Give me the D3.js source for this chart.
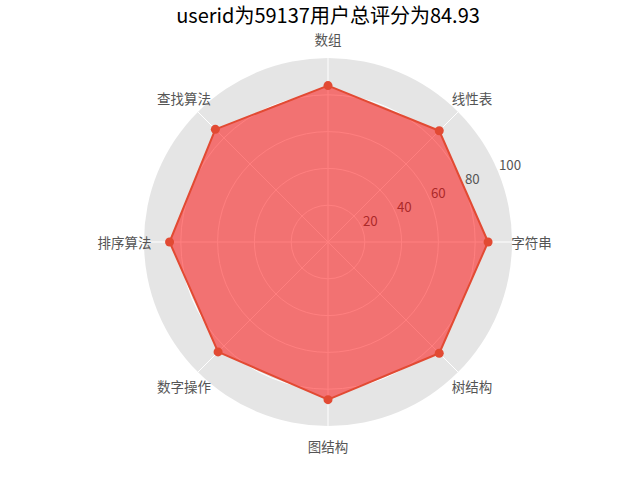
<!DOCTYPE html>
<html><head><meta charset="utf-8">
<script src="https://cdn.jsdelivr.net/npm/d3@7"></script>
<style>body{margin:0;background:#fff}svg{display:block}</style>
</head><body>
<script>
const categories = ['字符串','线性表','数组','查找算法','排序算法','数字操作','图结构','树结构'];
const values = [87.0, 85.5, 85.0, 86.6, 86.1, 84.5, 85.7, 85.5];
const rTicks = [20, 40, 60, 80, 100];
const title = 'userid为59137用户总评分为84.93';

const W = 640, H = 480, cx = 328, cy = 242, R = 184;
const font = '"Noto Sans CJK SC","Noto Sans",sans-serif';
const svg = d3.select('body').append('svg').attr('width', W).attr('height', H);
const g = svg.append('g').attr('transform', `translate(${cx},${cy})`);

const r = d3.scaleLinear().domain([0, 100]).range([0, R]);
const theta = d3.scaleLinear().domain([0, categories.length]).range([0, 2 * Math.PI]);
const px = (i, v) => r(v) * Math.cos(theta(i));
const py = (i, v) => -r(v) * Math.sin(theta(i));

// background disk
g.append('circle').attr('r', r(100)).attr('fill', '#E5E5E5');
// grid circles
g.selectAll('.gc').data(rTicks.slice(0, -1)).join('circle')
  .attr('r', d => r(d)).attr('fill', 'none').attr('stroke', '#fff').attr('stroke-width', 1);
// radial grid lines
g.selectAll('.gl').data(categories).join('line')
  .attr('x1', 0).attr('y1', 0)
  .attr('x2', (d, i) => px(i, 100)).attr('y2', (d, i) => py(i, 100))
  .attr('stroke', '#fff').attr('stroke-width', 1);
// radial tick labels at 22.5 deg
const la = Math.PI / 8;
g.selectAll('.rl').data(rTicks).join('text')
  .attr('x', d => r(d) * Math.cos(la) + 1)
  .attr('y', d => -r(d) * Math.sin(la) - 2)
  .attr('font-family', font).attr('font-size', 13.3).attr('fill', '#555')
  .text(d => d);

// polygon
const line = d3.lineRadial()
  .angle((d, i) => Math.PI / 2 - theta(i))
  .radius(d => r(d))
  .curve(d3.curveLinearClosed);
g.append('path').attr('d', line(values))
  .attr('fill', 'red').attr('fill-opacity', 0.5)
  .attr('stroke', '#E24A33').attr('stroke-width', 2).attr('stroke-linejoin', 'round');
g.selectAll('.pt').data(values).join('circle')
  .attr('cx', (d, i) => px(i, d)).attr('cy', (d, i) => py(i, d))
  .attr('r', 4.5).attr('fill', '#E24A33');

// category labels
const LR = 203.5;
g.selectAll('.cl').data(categories).join('text')
  .attr('x', (d, i) => LR * Math.cos(theta(i)))
  .attr('y', (d, i) => -LR * Math.sin(theta(i)))
  .attr('text-anchor', 'middle').attr('dominant-baseline', 'central')
  .attr('font-family', font).attr('font-size', 13.5).attr('fill', '#555')
  .text(d => d);

svg.append('text').attr('x', cx).attr('y', 23).attr('text-anchor', 'middle')
  .attr('font-family', font).attr('font-size', 20).attr('fill', '#000')
  .text(title);
</script>
</body></html>
